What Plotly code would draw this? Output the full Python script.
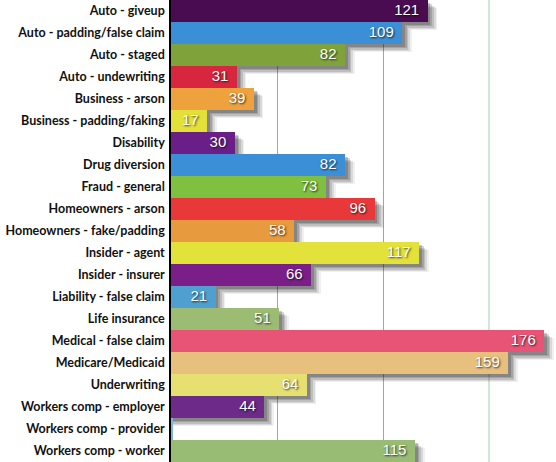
import plotly.graph_objects as go

categories = [
    "Auto - giveup", "Auto - padding/false claim", "Auto - staged",
    "Auto - undewriting", "Business - arson", "Business - padding/faking",
    "Disability", "Drug diversion", "Fraud - general", "Homeowners - arson",
    "Homeowners - fake/padding", "Insider - agent", "Insider - insurer",
    "Liability - false claim", "Life insurance", "Medical - false claim",
    "Medicare/Medicaid", "Underwriting", "Workers comp - employer",
    "Workers comp - provider", "Workers comp - worker",
]
values = [121, 109, 82, 31, 39, 17, 30, 82, 73, 96, 58, 117, 66, 21, 51,
          176, 159, 64, 44, 1, 115]
colors = [
    "#4a0c50", "#3b8fd6", "#7fa33a", "#d8263f", "#eea23e", "#e3e03a",
    "#6a1f88", "#3b8fd6", "#7fc040", "#e8383a", "#e89a3e", "#e2e23a",
    "#7a1f88", "#4fa0d0", "#9cbc74", "#e85476", "#e8c07e", "#e6e070",
    "#6e2a88", "#80b4d8", "#98bc74",
]
labels = [str(v) + "\u00a0\u00a0" if v >= 5 else "" for v in values]

fig = go.Figure()

# fake blurred drop shadow: a few offset grey layers under the bars
shadow_layers = [(4.6, 0.35, 0.07), (3.8, 0.30, 0.11), (3.0, 0.25, 0.15),
                 (2.2, 0.20, 0.19), (1.4, 0.14, 0.24)]
for extra, shift, alpha in shadow_layers:
    fig.add_trace(go.Bar(
        y=categories, x=[v + extra if v >= 5 else 0 for v in values],
        orientation="h", offset=-0.5 + shift, width=1.0,
        marker=dict(color=f"rgba(40,40,40,{alpha})", line=dict(width=0)),
        hoverinfo="skip", showlegend=False,
    ))

fig.add_trace(go.Bar(
    y=categories, x=values, orientation="h",
    marker=dict(color=colors, line=dict(width=0)),
    hoverinfo="skip", showlegend=False,
))

fig.add_trace(go.Scatter(
    y=categories, x=values, mode="text", text=labels,
    textposition="middle left",
    textfont=dict(family="Liberation Sans, Arial, sans-serif", size=15,
                  color="white", shadow="1px 1px 2px rgba(0,0,0,0.75)"),
    cliponaxis=False, hoverinfo="skip", showlegend=False,
))

fig.update_layout(
    width=556, height=462,
    margin=dict(l=171, r=0, t=0, b=0),
    plot_bgcolor="white", paper_bgcolor="white",
    barmode="overlay", bargap=0,
    shapes=[dict(type="line", xref="x", yref="paper", x0=150, x1=150,
                 y0=0, y1=1, line=dict(color="#a8ccb4", width=1),
                 layer="below")],
)
fig.update_xaxes(
    range=[0, 181.6], tickvals=[50, 100], showticklabels=False,
    showgrid=True, gridcolor="#a4a4a4", gridwidth=1, zeroline=False,
    fixedrange=True, automargin=False,
)
fig.update_yaxes(
    range=[20.5, -0.5], showline=True, linecolor="black", linewidth=1.5,
    ticks="", ticklabelstandoff=2, showgrid=False, automargin=False,
    tickfont=dict(family="Lato, Open Sans, sans-serif", size=12.5,
                  color="#111111", weight="bold"),
    fixedrange=True,
)

# page body has a default 8px margin; drop it so the chart sits at 0,0
fig.write_html("out.html", config={"displayModeBar": False},
               post_script="document.body.style.margin='0';")
